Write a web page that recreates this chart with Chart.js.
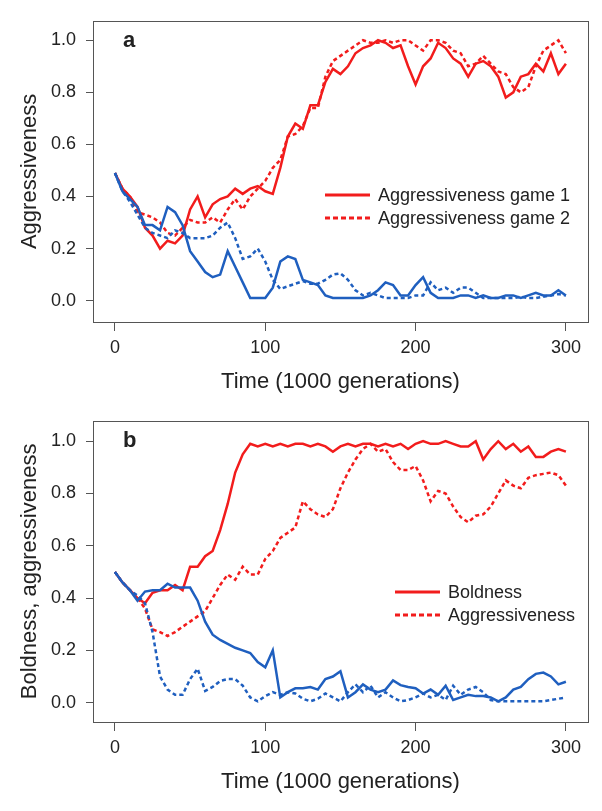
<!DOCTYPE html>
<html lang="en">
<head>
    <meta charset="UTF-8">
    <title>Aggressiveness and boldness over time</title>
    <script src="https://cdn.jsdelivr.net/npm/chart.js"></script>
    <style>
        body {
            margin: 0;
            background: #fff;
        }

        .figure {
            position: relative;
            width: 602px;
            height: 811px;
            background: #fff;
        }

        .panel {
            position: absolute;
            left: 0;
        }

        #panel-a { top: 0; }
        #panel-b { top: 400px; }
    </style>
</head>
<body>
    <div class="figure">
        <canvas class="panel" id="panel-a" width="602" height="400"></canvas>
        <canvas class="panel" id="panel-b" width="602" height="411"></canvas>
    </div>
    <script>
        // Time axis, in 1000 generations
        const time = [0, 5, 10, 15, 20, 25, 30, 35, 40, 45, 50, 55, 60, 65, 70, 75, 80, 85, 90, 95,
            100, 105, 110, 115, 120, 125, 130, 135, 140, 145, 150, 155, 160, 165, 170, 175, 180, 185, 190, 195,
            200, 205, 210, 215, 220, 225, 230, 235, 240, 245, 250, 255, 260, 265, 270, 275, 280, 285, 290, 295, 300];

        const xTicks = [0, 100, 200, 300];
        const yTicks = [0, 0.2, 0.4, 0.6, 0.8, 1.0];

        // Panel a: aggressiveness in game 1 (solid) and game 2 (dotted)
        const aRedGame1 = [0.49, 0.43, 0.40, 0.36, 0.28, 0.25, 0.20, 0.23, 0.22, 0.25, 0.35, 0.40, 0.32, 0.37, 0.39, 0.40, 0.43, 0.41, 0.43, 0.44,
            0.42, 0.41, 0.51, 0.63, 0.68, 0.66, 0.75, 0.75, 0.84, 0.89, 0.87, 0.90, 0.95, 0.97, 0.98, 1.00, 0.99, 0.97, 0.98, 0.90,
            0.83, 0.90, 0.93, 0.99, 0.97, 0.93, 0.91, 0.86, 0.91, 0.92, 0.90, 0.86, 0.78, 0.80, 0.86, 0.87, 0.91, 0.88, 0.95, 0.87, 0.91];
        const aRedGame2 = [0.49, 0.43, 0.40, 0.34, 0.33, 0.32, 0.30, 0.26, 0.25, 0.28, 0.31, 0.30, 0.30, 0.32, 0.30, 0.35, 0.39, 0.35, 0.40, 0.43,
            0.46, 0.51, 0.54, 0.63, 0.64, 0.67, 0.74, 0.74, 0.86, 0.92, 0.94, 0.96, 0.98, 1.00, 0.99, 0.99, 1.00, 0.99, 1.00, 1.00,
            0.98, 0.96, 1.00, 1.00, 0.99, 0.96, 0.95, 0.90, 0.91, 0.94, 0.91, 0.88, 0.87, 0.82, 0.80, 0.82, 0.90, 0.96, 0.98, 1.00, 0.95];
        const aBlueGame1 = [0.49, 0.42, 0.39, 0.36, 0.29, 0.29, 0.27, 0.36, 0.34, 0.29, 0.19, 0.15, 0.11, 0.09, 0.10, 0.19, 0.13, 0.07, 0.01, 0.01,
            0.01, 0.05, 0.15, 0.17, 0.16, 0.08, 0.07, 0.06, 0.02, 0.01, 0.01, 0.01, 0.01, 0.01, 0.02, 0.04, 0.07, 0.06, 0.02, 0.02,
            0.06, 0.09, 0.03, 0.01, 0.01, 0.01, 0.02, 0.02, 0.01, 0.02, 0.01, 0.01, 0.02, 0.02, 0.01, 0.02, 0.03, 0.02, 0.02, 0.04, 0.02];
        const aBlueGame2 = [0.49, 0.42, 0.38, 0.33, 0.28, 0.26, 0.25, 0.24, 0.27, 0.26, 0.24, 0.24, 0.24, 0.25, 0.28, 0.30, 0.24, 0.16, 0.17, 0.20,
            0.15, 0.08, 0.045, 0.055, 0.065, 0.075, 0.065, 0.065, 0.08, 0.10, 0.105, 0.08, 0.04, 0.02, 0.03, 0.02, 0.01, 0.01, 0.01, 0.01,
            0.02, 0.02, 0.07, 0.04, 0.05, 0.03, 0.05, 0.05, 0.03, 0.01, 0.01, 0.01, 0.01, 0.01, 0.015, 0.01, 0.01, 0.015, 0.02, 0.025, 0.02];

        // Panel b: boldness (solid) and aggressiveness (dotted)
        const bRedBold = [0.50, 0.46, 0.43, 0.40, 0.38, 0.42, 0.43, 0.43, 0.45, 0.43, 0.52, 0.52, 0.56, 0.58, 0.66, 0.76, 0.88, 0.95, 0.99, 0.98,
            0.99, 0.98, 0.99, 0.98, 0.99, 0.99, 0.98, 0.99, 0.98, 0.96, 0.98, 0.99, 0.98, 0.99, 0.99, 0.98, 0.99, 0.98, 0.99, 0.97,
            0.99, 1.00, 0.99, 0.99, 1.00, 0.99, 0.98, 0.98, 1.00, 0.93, 0.97, 1.00, 0.97, 0.99, 0.96, 0.98, 0.94, 0.94, 0.96, 0.97, 0.96];
        const bRedAggr = [0.50, 0.46, 0.43, 0.40, 0.36, 0.28, 0.27, 0.255, 0.27, 0.29, 0.31, 0.33, 0.35, 0.40, 0.45, 0.49, 0.47, 0.52, 0.49, 0.49,
            0.55, 0.58, 0.63, 0.65, 0.67, 0.77, 0.74, 0.72, 0.71, 0.74, 0.82, 0.88, 0.93, 0.97, 0.99, 0.96, 0.97, 0.92, 0.89, 0.89,
            0.905, 0.85, 0.77, 0.81, 0.80, 0.75, 0.71, 0.69, 0.715, 0.72, 0.75, 0.80, 0.85, 0.83, 0.82, 0.86, 0.87, 0.875, 0.88, 0.87, 0.83];
        const bBlueBold = [0.50, 0.46, 0.43, 0.39, 0.425, 0.43, 0.43, 0.455, 0.44, 0.44, 0.44, 0.39, 0.31, 0.26, 0.24, 0.225, 0.21, 0.20, 0.19, 0.155,
            0.135, 0.20, 0.02, 0.04, 0.055, 0.055, 0.06, 0.05, 0.09, 0.10, 0.12, 0.02, 0.04, 0.07, 0.05, 0.04, 0.05, 0.085, 0.067, 0.06,
            0.055, 0.035, 0.05, 0.03, 0.065, 0.01, 0.02, 0.03, 0.025, 0.025, 0.02, 0.005, 0.02, 0.05, 0.06, 0.09, 0.11, 0.115, 0.10, 0.07, 0.08];
        const bBlueAggr = [0.50, 0.46, 0.43, 0.41, 0.38, 0.27, 0.10, 0.05, 0.03, 0.03, 0.09, 0.13, 0.045, 0.06, 0.083, 0.09, 0.09, 0.065, 0.02, 0.005,
            0.025, 0.04, 0.03, 0.04, 0.035, 0.015, 0.005, 0.015, 0.035, 0.02, 0.005, 0.04, 0.07, 0.04, 0.065, 0.02, 0.04, 0.02, 0.005, 0.01,
            0.02, 0.035, 0.02, 0.03, 0.01, 0.065, 0.03, 0.05, 0.06, 0.04, 0.01, 0.005, 0.005, 0.005, 0.005, 0.005, 0.005, 0.005, 0.01, 0.015, 0.02];

        const legendA = ['Aggressiveness game 1', 'Aggressiveness game 2'];
        const legendB = ['Boldness', 'Aggressiveness'];

        const RED = '#f21c1c';
        const BLUE = '#1f5fbf';
        const INK = '#222';
        const AXIS = '#555';
        const FONT = '"Liberation Sans", Arial, sans-serif';

        // box round the plot, panel letter and the legend
        const framePlugin = {
            id: 'frame',
            afterDraw(chart, args, opts) {
                const { ctx, chartArea: a } = chart;
                ctx.save();
                ctx.strokeStyle = AXIS;
                ctx.lineWidth = 1;
                ctx.strokeRect(Math.round(a.left) + 0.5, Math.round(a.top) + 0.5,
                    Math.round(a.right - a.left), Math.round(a.bottom - a.top));

                ctx.fillStyle = INK;
                ctx.textBaseline = 'middle';
                ctx.font = 'bold 22px ' + FONT;
                ctx.fillText(opts.letter, 123, 41);

                ctx.font = '18px ' + FONT;
                opts.labels.forEach((label, i) => {
                    const y = opts.legendY + i * 23;
                    ctx.beginPath();
                    ctx.strokeStyle = RED;
                    ctx.lineWidth = 3;
                    ctx.setLineDash(i === 0 ? [] : [5, 3]);
                    ctx.moveTo(opts.legendX, y);
                    ctx.lineTo(opts.legendX + 45, y);
                    ctx.stroke();
                    ctx.fillStyle = INK;
                    ctx.fillText(label, opts.legendX + 53, y + 1);
                });
                ctx.restore();
            }
        };

        function makePanel(id, height, yMin, yMax, yTitle, series, frame, titleBottom) {
            const ctx = document.getElementById(id).getContext('2d');
            const line = (data, color, dashed) => ({
                data: data,
                borderColor: color,
                borderWidth: 2.5,
                borderDash: dashed ? [4, 3] : [],
                pointRadius: 0,
                tension: 0,
                fill: false
            });

            return new Chart(ctx, {
                type: 'line',
                data: {
                    datasets: [
                        line(series[2].map((v, i) => ({ x: time[i], y: v })), BLUE, false),
                        line(series[3].map((v, i) => ({ x: time[i], y: v })), BLUE, true),
                        line(series[0].map((v, i) => ({ x: time[i], y: v })), RED, false),
                        line(series[1].map((v, i) => ({ x: time[i], y: v })), RED, true)
                    ]
                },
                options: {
                    responsive: false,
                    animation: false,
                    devicePixelRatio: 1,
                    layout: { padding: { top: 12, right: 14, left: 0, bottom: 0 } },
                    plugins: {
                        legend: { display: false },
                        tooltip: { enabled: false },
                        frame: frame
                    },
                    scales: {
                        x: {
                            type: 'linear',
                            min: -14.6,
                            max: 314.7,
                            afterBuildTicks: s => { s.ticks = xTicks.map(v => ({ value: v })); },
                            afterFit: s => { s.height = height - 12 - 310; },
                            grid: { drawOnChartArea: false, drawTicks: true, tickLength: 9, color: AXIS },
                            border: { display: false },
                            ticks: { color: INK, font: { family: FONT, size: 18 }, padding: 6, maxRotation: 0 },
                            title: {
                                display: true,
                                text: 'Time (1000 generations)',
                                color: INK,
                                font: { family: FONT, size: 22 },
                                padding: { top: 0, bottom: titleBottom }
                            }
                        },
                        y: {
                            min: yMin,
                            max: yMax,
                            afterBuildTicks: s => { s.ticks = yTicks.map(v => ({ value: v })); },
                            afterFit: s => { s.width = 93; },
                            grid: { drawOnChartArea: false, drawTicks: true, tickLength: 7, color: AXIS },
                            border: { display: false },
                            ticks: {
                                color: INK,
                                font: { family: FONT, size: 18 },
                                padding: 10,
                                callback: v => v.toFixed(1)
                            },
                            title: {
                                display: true,
                                text: yTitle,
                                color: INK,
                                font: { family: FONT, size: 22 },
                                padding: { top: 17, bottom: 0 }
                            }
                        }
                    }
                },
                plugins: [framePlugin]
            });
        }

        makePanel('panel-a', 400, -0.082, 1.0746, 'Aggressiveness',
            [aRedGame1, aRedGame2, aBlueGame1, aBlueGame2],
            { letter: 'a', labels: legendA, legendX: 325, legendY: 195 }, 5);

        makePanel('panel-b', 411, -0.074, 1.078, 'Boldness, aggressiveness',
            [bRedBold, bRedAggr, bBlueBold, bBlueAggr],
            { letter: 'b', labels: legendB, legendX: 395, legendY: 192 }, 16);
    </script>
</body>
</html>
